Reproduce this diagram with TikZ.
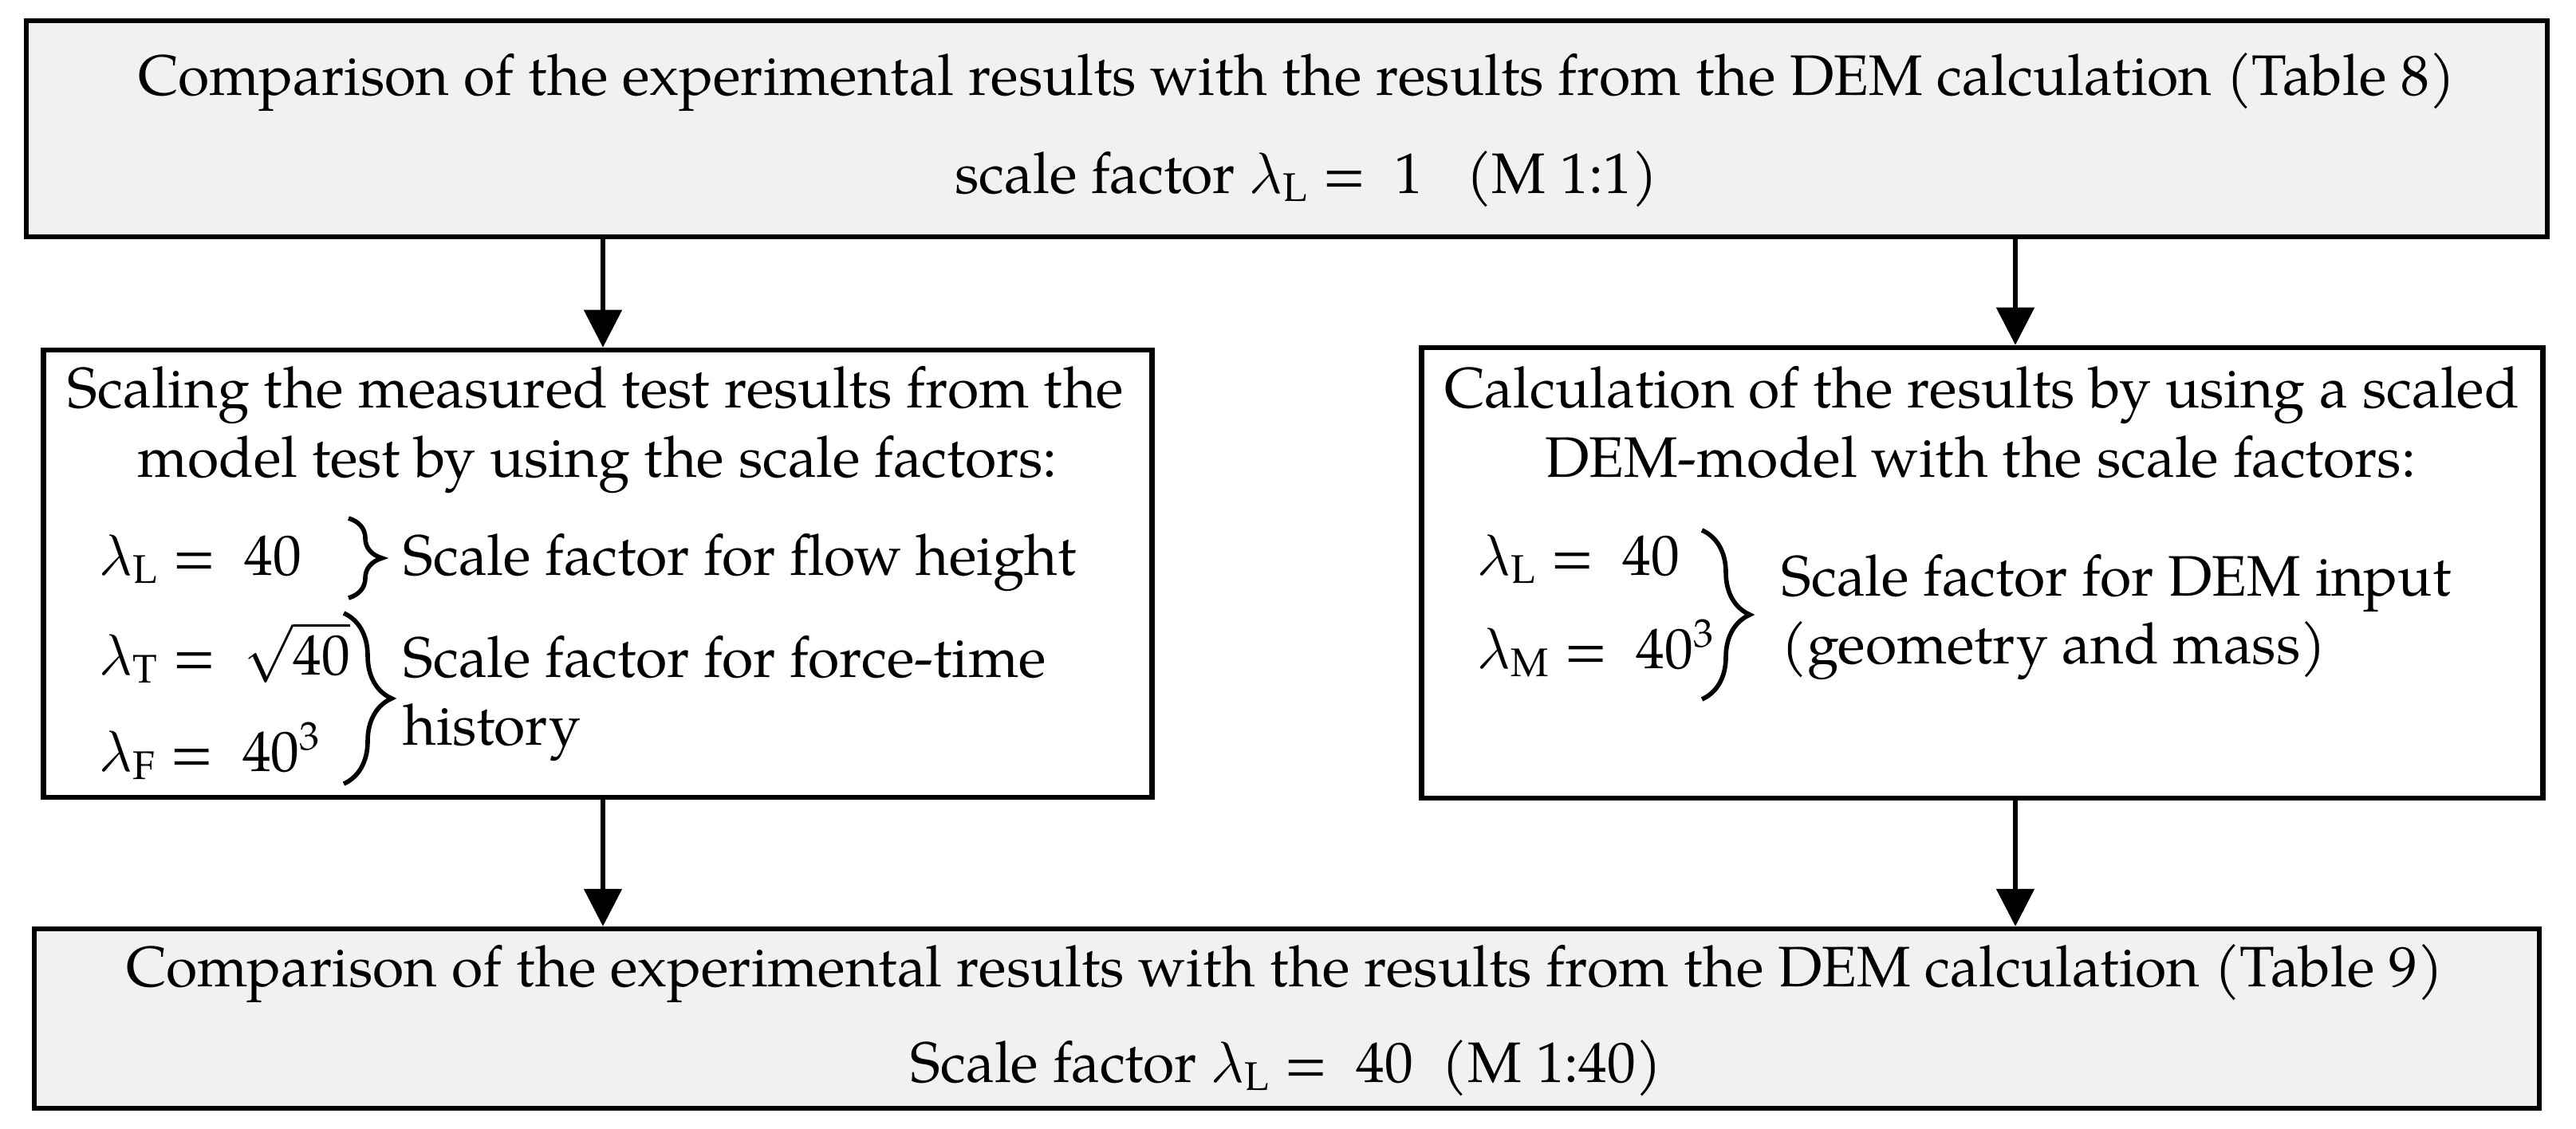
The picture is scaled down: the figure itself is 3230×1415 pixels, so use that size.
\documentclass[tikz,border=0pt]{standalone}
\usepackage{fontspec}
\setmainfont{TeX Gyre Pagella}
\usetikzlibrary{arrows.meta,decorations.pathreplacing}
\definecolor{boxgray}{HTML}{F1F1F1}
\begin{document}
\begin{tikzpicture}[x=0.01cm,y=-0.01cm,
  every node/.style={font=\fontsize{20.35}{24.5}\selectfont, inner sep=0pt},
  box/.style={draw, line width=1.8pt, rectangle, inner sep=0pt},
  graybox/.style={box, fill=boxgray},
  ctext/.style={anchor=base},
  ltext/.style={anchor=base west},
  arr/.style={line width=1.5pt, -{Triangle[length=0.47cm,width=0.47cm]}},
  brc/.style={decorate, decoration={brace, amplitude=#1}, line width=1.6pt}
]
\useasboundingbox (0,0) rectangle (3230,1415);

% boxes
\node[graybox, minimum width=31.59cm, minimum height=2.71cm] (top) at (1613.5,161.5) {};
\node[box, minimum width=13.89cm, minimum height=5.61cm] (lm) at (749.5,719.5) {};
\node[box, minimum width=14.05cm, minimum height=5.65cm] (rm) at (2485.5,718.5) {};
\node[graybox, minimum width=31.39cm, minimum height=2.25cm] (bot) at (1613.5,1277.5) {};

% arrows
\coordinate (xa) at (756,0);
\coordinate (xb) at (2527,0);
\draw[arr] (top.south -| xa) -- (lm.north -| xa);
\draw[arr] (top.south -| xb) -- (rm.north -| xb);
\draw[arr] (lm.south -| xa) -- (bot.north -| xa);
\draw[arr] (rm.south -| xb) -- (bot.north -| xb);

% top text
\node[ctext] (t1) at (1626,120) {Comparison of the experimental results with the results from the DEM calculation (Table 8)};
\node[ctext] (t2) at (1638,242) {scale factor $\lambda_\mathrm{L}$ = \ 1 \ \ (M 1:1)};

% left middle text
\node[ctext] (l1) at (747,511) {Scaling the measured test results from the};
\node[ctext] (l2) at (749,598) {model test by using the scale factors:};
\node[ltext] (l3) at (124,721) {$\lambda_\mathrm{L}$ = \ 40};
\node[ltext] (l4) at (124,846) {$\lambda_\mathrm{T}$ = \ $\sqrt{\mbox{40}}$};
\node[ltext] (l5) at (124,967) {$\lambda_\mathrm{F}$ = \ 40\textsuperscript{3}};
\node[ltext] (l6) at (505,721) {Scale factor for flow height};
\node[ltext] (l7) at (505,849) {Scale factor for force-time};
\node[ltext] (l8) at (505,934) {history};
\draw[brc=0.42cm] (437,650) -- (437,750);
\draw[brc=0.6cm] (431,769) -- (431,983);

% right middle text
\node[ctext] (r1) at (2485,511) {Calculation of the results by using a scaled};
\node[ctext] (r2) at (2483,598) {DEM-model with the scale factors:};
\node[ltext] (r3) at (1852,721) {$\lambda_\mathrm{L}$ = \ 40};
\node[ltext] (r4) at (1852,838) {$\lambda_\mathrm{M}$ = \ 40\textsuperscript{3}};
\node[ltext] (r5) at (2233,747) {Scale factor for DEM input};
\node[ltext] (r6) at (2233,832) {(geometry and mass)};
\draw[brc=0.6cm] (2134,665) -- (2134,877);

% bottom text
\node[ctext] (b1) at (1611,1237) {Comparison of the experimental results with the results from the DEM calculation (Table 9)};
\node[ctext] (b2) at (1613,1357) {Scale factor $\lambda_\mathrm{L}$ = \ 40 \ (M 1:40)};
\end{tikzpicture}
\end{document}
